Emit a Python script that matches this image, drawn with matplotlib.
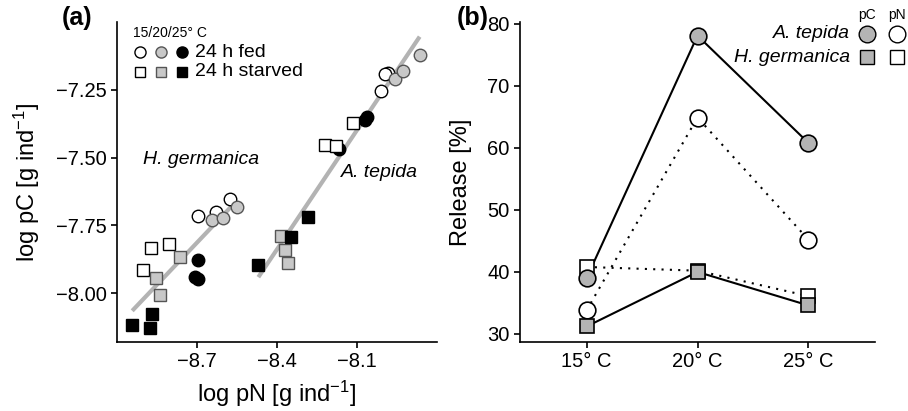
import matplotlib
matplotlib.use("Agg")
import matplotlib.pyplot as plt
import numpy as np

plt.rcParams['font.family'] = ['Liberation Sans', 'DejaVu Sans']
plt.rcParams['mathtext.fontset'] = 'custom'
plt.rcParams['mathtext.rm'] = 'Liberation Sans'
plt.rcParams['mathtext.it'] = 'Liberation Sans:italic'

# ---- panel (a): log pC vs log pN, rows = 15/20/25 C ----
hg_fed_pn = [[-8.697, -8.628, -8.575], [-8.642, -8.601, -8.550], [-8.697, -8.707, -8.695]]
hg_fed_pc = [[-7.715, -7.702, -7.652], [-7.730, -7.724, -7.682], [-7.879, -7.942, -7.949]]
hg_starved_pn = [[-8.872, -8.805, -8.901], [-8.762, -8.854, -8.838], [-8.943, -8.875, -8.867]]
hg_starved_pc = [[-7.832, -7.818, -7.915], [-7.867, -7.943, -8.007], [-8.118, -8.128, -8.078]]

at_fed_pn = [[-8.011, -7.983, -7.994], [-7.958, -7.927, -7.865], [-8.069, -8.061, -8.168]]
at_fed_pc = [[-7.253, -7.188, -7.191], [-7.209, -7.180, -7.121], [-7.363, -7.352, -7.468]]
at_starved_pn = [[-8.116, -8.220, -8.180], [-8.384, -8.369, -8.358], [-8.470, -8.347, -8.284]]
at_starved_pc = [[-7.372, -7.453, -7.457], [-7.789, -7.841, -7.889], [-7.896, -7.793, -7.719]]

# regression lines
fit_slope = [1.035, 1.466]      # H. germanica, A. tepida
fit_icept = [1.191, 4.476]

# ---- panel (b): release in % ----
temp_labels = ['15° C', '20° C', '25° C']
at_pc = [39.0, 78.1, 60.8]
at_pn = [33.8, 64.9, 45.2]
hg_pc = [31.2, 40.0, 34.6]
hg_pn = [40.8, 40.2, 36.1]

face = ['white', '#c8c8c8', 'black']
edge = ['black', '#555555', 'black']
grey_b = '#b4b4b4'

fig = plt.figure(figsize=(9.08, 4.11), dpi=100)
axa = fig.add_axes([117/908, 69/411, 320/908, 320/411])
axb = fig.add_axes([520/908, 69/411, 355/908, 320/411])

for ax in (axa, axb):
    for s in ('top', 'right'):
        ax.spines[s].set_visible(False)
    for s in ('left', 'bottom'):
        ax.spines[s].set_linewidth(1.2)
    ax.tick_params(direction='out', length=4, width=1.2, labelsize=14.5)

# panel a
groups = [(hg_fed_pn, hg_fed_pc, 'o'), (hg_starved_pn, hg_starved_pc, 's'),
          (at_fed_pn, at_fed_pc, 'o'), (at_starved_pn, at_starved_pc, 's')]
for xs, ys, m in groups:
    for i in range(3):
        axa.plot(xs[i], ys[i], ls='none', marker=m, ms=9 if m == 'o' else 8,
                 mfc=face[i], mec=edge[i], mew=1, zorder=3)

sp_x = [hg_fed_pn + hg_starved_pn, at_fed_pn + at_starved_pn]
for k in range(2):
    allx = np.array(sp_x[k]).ravel()
    xx = np.array([allx.min(), allx.max()])
    axa.plot(xx, fit_slope[k] * xx + fit_icept[k], color='#b3b3b3', lw=3,
             solid_capstyle='butt', zorder=2)

axa.set_xlim(-9.0, -7.8)
axa.set_ylim(-8.18, -7.0)
axa.set_xticks([-8.7, -8.4, -8.1])
axa.set_xticklabels(['−8.7', '−8.4', '−8.1'])
axa.set_yticks([-8.0, -7.75, -7.5, -7.25])
axa.set_yticklabels(['−8.00', '−7.75', '−7.50', '−7.25'])
axa.set_xlabel(r'log pN [g ind$^{-1}$]', fontsize=17)
axa.set_ylabel(r'log pC [g ind$^{-1}$]', fontsize=17)
axa.xaxis.set_label_coords(0.5, -0.115)
axa.yaxis.set_label_coords(-0.235, 0.5)

axa.text(-8.683, -7.508, 'H. germanica', style='italic', fontsize=14, ha='center', va='center')
axa.text(-8.014, -7.555, 'A. tepida', style='italic', fontsize=14, ha='center', va='center')

# legend a
axa.text(0.05, 0.966, '15/20/25° C', transform=axa.transAxes, fontsize=10, va='center')
lx = [0.072, 0.1375, 0.203]
for i in range(3):
    axa.plot(lx[i], 0.906, marker='o', ms=8, mfc=face[i], mec=edge[i], mew=1,
             transform=axa.transAxes, clip_on=False)
    axa.plot(lx[i], 0.844, marker='s', ms=7, mfc=face[i], mec=edge[i], mew=1,
             transform=axa.transAxes, clip_on=False)
axa.text(0.244, 0.906, '24 h fed', transform=axa.transAxes, fontsize=14, va='center')
axa.text(0.244, 0.844, '24 h starved', transform=axa.transAxes, fontsize=14, va='center')

# panel b
xi = np.arange(len(temp_labels))
axb.plot(xi, at_pc, color='black', lw=1.5, zorder=2)
axb.plot(xi, hg_pc, color='black', lw=1.5, zorder=2)
axb.plot(xi, at_pn, color='black', lw=1.5, ls=(0, (1, 3)), zorder=2)
axb.plot(xi, hg_pn, color='black', lw=1.5, ls=(0, (1, 3)), zorder=2)
axb.plot(xi, at_pn, ls='none', marker='o', ms=12, mfc='white', mec='black', mew=1.2, zorder=3)
axb.plot(xi, hg_pn, ls='none', marker='s', ms=10, mfc='white', mec='black', mew=1.2, zorder=3)
axb.plot(xi, at_pc, ls='none', marker='o', ms=12, mfc=grey_b, mec='black', mew=1.2, zorder=4)
axb.plot(xi, hg_pc, ls='none', marker='s', ms=10, mfc=grey_b, mec='black', mew=1.2, zorder=4)

axb.set_xlim(-0.6, 2.6)
axb.set_ylim(28.7, 80.3)
axb.set_xticks(xi)
axb.set_xticklabels(temp_labels)
axb.set_yticks([30, 40, 50, 60, 70, 80])
axb.set_ylabel('Release [%]', fontsize=17)
axb.yaxis.set_label_coords(-0.135, 0.5)

# legend b
for x, lab in [(0.977, 'pC'), (1.062, 'pN')]:
    axb.text(x, 1.022, lab, transform=axb.transAxes, fontsize=10, ha='center', va='center')
axb.plot(0.977, 0.9625, marker='o', ms=12, mfc=grey_b, mec='black', mew=1,
         transform=axb.transAxes, clip_on=False)
axb.plot(1.062, 0.9625, marker='o', ms=12, mfc='white', mec='black', mew=1,
         transform=axb.transAxes, clip_on=False)
axb.plot(0.977, 0.8906, marker='s', ms=10, mfc=grey_b, mec='black', mew=1,
         transform=axb.transAxes, clip_on=False)
axb.plot(1.062, 0.8906, marker='s', ms=10, mfc='white', mec='black', mew=1,
         transform=axb.transAxes, clip_on=False)
axb.text(0.930, 0.9625, 'A. tepida', style='italic', fontsize=14, ha='right', va='center',
         transform=axb.transAxes)
axb.text(0.930, 0.8906, 'H. germanica', style='italic', fontsize=14, ha='right', va='center',
         transform=axb.transAxes)

fig.text(62/908, 1 - 18/411, '(a)', fontsize=18, fontweight='bold', va='center')
fig.text(457/908, 1 - 18/411, '(b)', fontsize=18, fontweight='bold', va='center')

fig.savefig('out.png', dpi=100)
